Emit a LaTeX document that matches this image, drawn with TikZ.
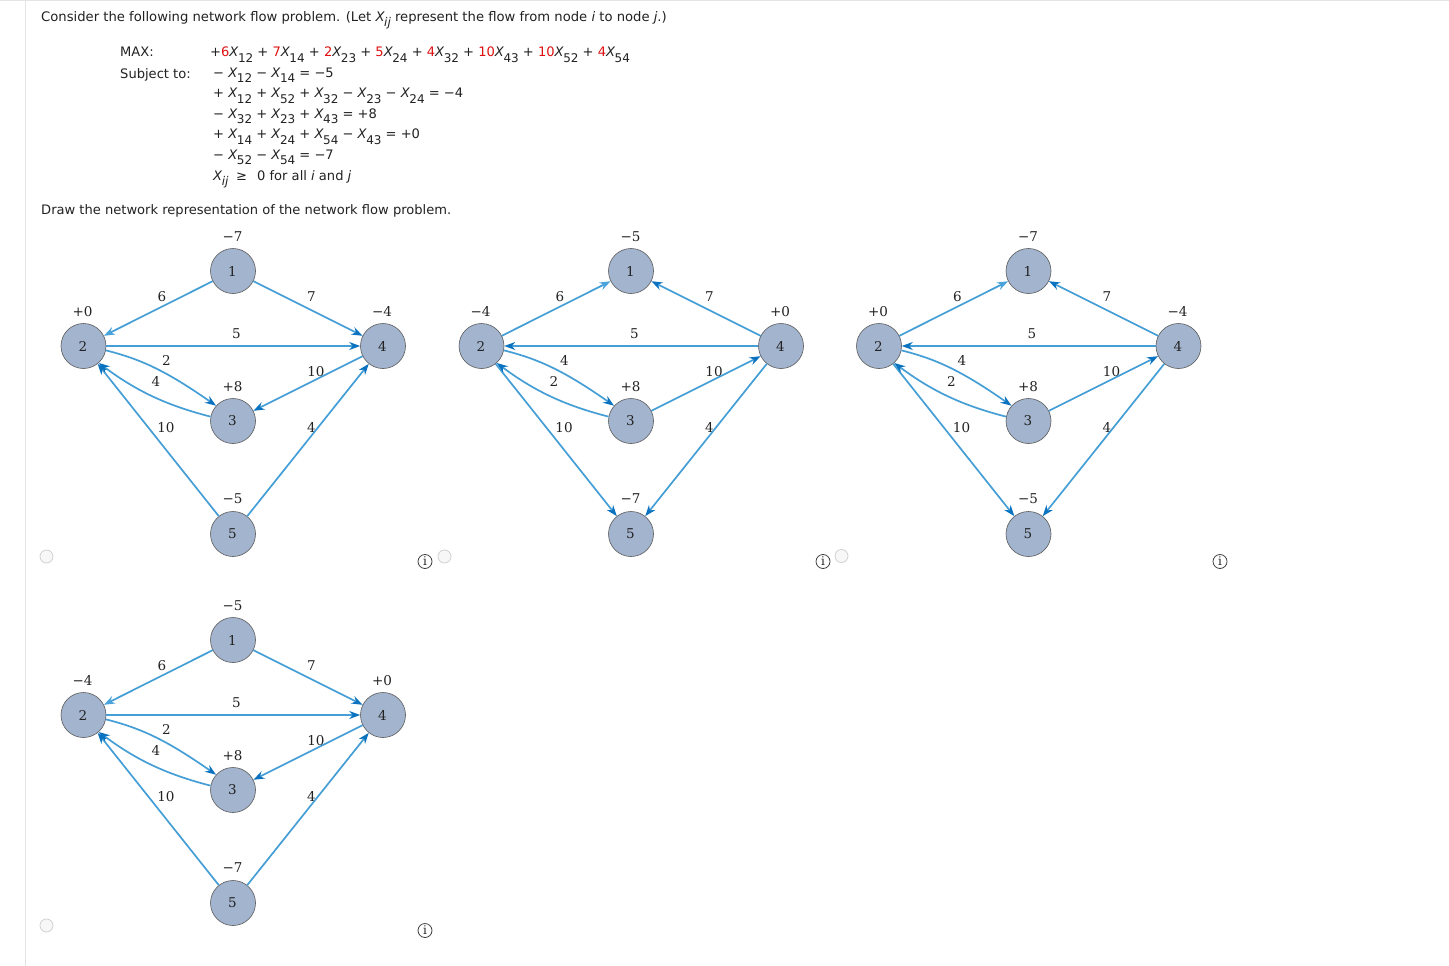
\documentclass[tikz,border=0pt]{standalone}
\usepackage{fontspec}
\setmainfont{DejaVu Sans}
\newfontfamily\lblfont{DejaVu Serif}
\usetikzlibrary{arrows.meta}
\definecolor{linec}{HTML}{459FD6}
\definecolor{tipc}{HTML}{0A72BF}
\definecolor{tipl}{HTML}{4BA3DC}
\definecolor{nodef}{HTML}{A3B4CE}
\definecolor{txt}{HTML}{222222}
\definecolor{redc}{HTML}{E01010}
\definecolor{rule}{HTML}{E4E4E4}
\newcommand{\Xv}[1]{\textit{X}\kern-.6pt\raisebox{-5.2pt}{\fontsize{12}{14}\selectfont #1}}
\newcommand{\Rd}[1]{\textcolor{redc}{#1}}
\newcommand{\nt}[1]{\raisebox{-.6pt}{\kern-1.2pt #1}}
\tikzset{
  x=1pt,y=-1pt,
  vert/.style={circle,draw=black!65,fill=nodef,minimum size=45pt,inner sep=0pt,line width=.6pt,font=\fontsize{13.5}{15}\lblfont,text=txt},
  lab/.style={inner sep=0pt,font=\fontsize{13.5}{15}\lblfont,text=txt},
  edge/.style={draw=linec,line width=1.7pt,-{Stealth[length=11pt,width=8pt,color=tipc,fill=tipc]}},
  edgel/.style={draw=linec,line width=1.7pt,-{Stealth[length=11pt,width=8pt,color=tipl,fill=tipl]}},
  para/.style={anchor=base west,inner sep=0pt,font=\fontsize{13.07}{15}\selectfont,text=txt},
  radio/.style={circle,draw=black!18,fill=black!3,minimum size=13pt,inner sep=0pt,line width=.8pt},
  info/.style={circle,draw=black!75,minimum size=14pt,inner sep=0pt,line width=.8pt,font=\fontsize{12}{13}\lblfont,text=txt},
}
% vertices and all labels that are common to one graph
\newcommand{\verts}[6]{%
  \node[vert] (#1n1) at (233,271) {\nt{1}};
  \node[vert] (#1n2) at (83.5,346) {\nt{2}};
  \node[vert] (#1n3) at (233,421) {\nt{3}};
  \node[vert] (#1n4) at (383,346) {\nt{4}};
  \node[vert] (#1n5) at (233,534) {\nt{5}};
  \node[lab] (#1s1) at (232.5,236.7) {#2};
  \node[lab] (#1s2) at (82.5,311.7) {#3};
  \node[lab] (#1s3) at (232.5,386.7) {#4};
  \node[lab] (#1s4) at (382,311.7) {#5};
  \node[lab] (#1s5) at (232.5,498.7) {#6};
  \node[lab] (#1l12) at (162,296.7) {6};
  \node[lab] (#1l14) at (311.5,296.7) {7};
  \node[lab] (#1l24) at (236.5,333.7) {5};
  \node[lab] (#1l43) at (316,371.7) {10};
  \node[lab] (#1l52) at (166,427.7) {10};
  \node[lab] (#1l54) at (311.5,427.7) {4};
}
\newcommand{\curves}[1]{%
  \draw[edge] (#1n2.-11) .. controls (140,359) and (165,370) .. (#1n3.138);
  \draw[edge] (#1n3.169) .. controls (165,405) and (135,390) .. (#1n2.-48);
}
% graph with the arcs of the first kind
\newcommand{\netA}[8]{%
  \begin{scope}[shift={(#2,#3)}]
  \verts{#1}{#4}{#5}{#6}{#7}{#8}
  \node[lab] (#1l23) at (166.5,360.7) {2};
  \node[lab] (#1l32) at (156,381.7) {4};
  \draw[edgel] (#1n1) -- (#1n2);
  \draw[edge] (#1n1) -- (#1n4);
  \draw[edge] (#1n2) -- (#1n4);
  \draw[edge] (#1n4) -- (#1n3);
  \draw[edge] (#1n5) -- (#1n2);
  \draw[edge] (#1n5) -- (#1n4);
  \curves{#1}
  \end{scope}
}
% graph with the arcs of the second kind
\newcommand{\netB}[8]{%
  \begin{scope}[shift={(#2,#3)}]
  \verts{#1}{#4}{#5}{#6}{#7}{#8}
  \node[lab] (#1l23) at (166.5,360.7) {4};
  \node[lab] (#1l32) at (156,381.7) {2};
  \draw[edgel] (#1n2) -- (#1n1);
  \draw[edge] (#1n4) -- (#1n1);
  \draw[edge] (#1n4) -- (#1n2);
  \draw[edge] (#1n3) -- (#1n4);
  \draw[edge] (#1n2) -- (#1n5);
  \draw[edge] (#1n4) -- (#1n5);
  \curves{#1}
  \end{scope}
}
\begin{document}
\begin{tikzpicture}
\useasboundingbox (0,0) rectangle (1449,966);
\fill[white] (0,0) rectangle (1449,966);
\draw[rule,line width=1pt] (0,1) -- (1449,1);
\draw[rule,line width=1pt] (25.5,1) -- (25.5,966);

\node[para,font=\fontsize{13.17}{15}\selectfont] (t0) at (41,21.7) {Consider the following network flow problem. (Let \Xv{\textit{ij}} represent the flow from node \textit{i} to node \textit{j}.)};
\node[para] (t1) at (120,57) {MAX:};
\node[para] (t2) at (210,57) {+\Rd{6}\Xv{12} + \Rd{7}\Xv{14} + \Rd{2}\Xv{23} + \Rd{5}\Xv{24} + \Rd{4}\Xv{32} + \Rd{10}\Xv{43} + \Rd{10}\Xv{52} + \Rd{4}\Xv{54}};
\node[para] (t3) at (120,78) {Subject to:};
\node[para] (t4) at (213,77.5) {− \Xv{12} − \Xv{14} = −5};
\node[para] (t5) at (213,98) {+ \Xv{12} + \Xv{52} + \Xv{32} − \Xv{23} − \Xv{24} = −4};
\node[para] (t6) at (213,118) {− \Xv{32} + \Xv{23} + \Xv{43} = +8};
\node[para] (t7) at (213,139) {+ \Xv{14} + \Xv{24} + \Xv{54} − \Xv{43} = +0};
\node[para] (t8) at (213,159) {− \Xv{52} − \Xv{54} = −7};
\node[para] (t9) at (213,180) {\Xv{\textit{ij}} \;≥\; \,0 for all \textit{i} and \textit{j}};
\node[para] (t10) at (41,214) {Draw the network representation of the network flow problem.};

\netA{a}{0}{0}{−7}{+0}{+8}{−4}{−5}
\netB{b}{398}{0}{−5}{−4}{+8}{+0}{−7}
\netB{c}{795.5}{0}{−7}{+0}{+8}{−4}{−5}
\netA{d}{0}{369}{−5}{−4}{+8}{+0}{−7}

\node[radio] (r1) at (46.5,556.5) {};
\node[radio] (r2) at (444.5,556.5) {};
\node[radio] (r3) at (841.5,556) {};
\node[radio] (r4) at (46.5,925.5) {};
\node[info] (i1) at (425,561.5) {i};
\node[info] (i2) at (823,561.5) {i};
\node[info] (i3) at (1220,561.5) {i};
\node[info] (i4) at (425,930.5) {i};
\end{tikzpicture}
\end{document}
